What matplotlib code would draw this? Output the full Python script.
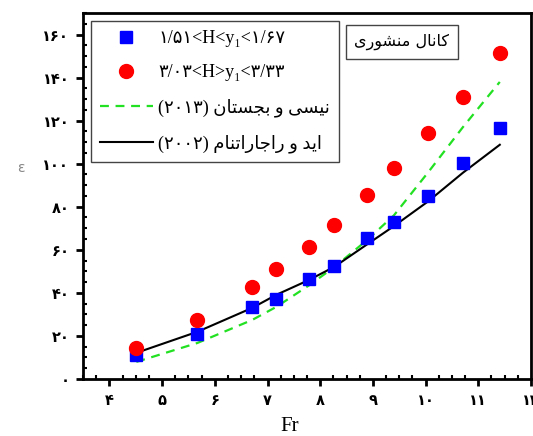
import matplotlib
matplotlib.use("Agg")
import matplotlib.pyplot as plt
from matplotlib.ticker import MultipleLocator, FuncFormatter
from matplotlib.font_manager import FontProperties

# Froude number of each test
fr = [4.51, 5.67, 6.71, 7.17, 7.79, 8.27, 8.89, 9.40, 10.05, 10.71, 11.41]
# measured relative energy loss, two ranges of H/y1
eps_low = [11.2, 20.9, 33.5, 37.2, 46.5, 52.6, 65.6, 73.0, 85.1, 100.5, 116.7]
eps_high = [14.4, 27.4, 42.8, 51.2, 61.4, 71.6, 85.6, 98.1, 114.4, 131.2, 151.6]
# empirical relations
eps_nisi = [7.9, 16.7, 27.4, 33.5, 43.5, 52.0, 64.5, 76.0, 96.0, 117.0, 138.0]
eps_eid = [12.1, 21.9, 33.0, 39.1, 46.0, 52.1, 62.5, 71.0, 82.5, 95.8, 108.8]

# persian strings, written as shaped glyphs in visual (left-to-right) order
lbl_low = "۱/۵۱<H<y\u2081<۱/۶۷"
lbl_high = "۳/۰۳<H>y\u2081<۳/۳۳"
lbl_nisi = ("(۲۰۱۳) " + "\uFEE5\uFE8E\uFE98\uFEB4\uFEA0\uFE91" + " \uFEED "
            + "\uFEF0\uFEB4\uFEF4\uFEE7")
lbl_eid = ("(۲۰۰۲) " + "\uFEE1\uFE8E\uFEE8\uFE97\uFE8D\uFEAD\uFE8E\uFE9F\uFE8D\uFEAD"
           + " \uFEED " + "\uFEAA\uFEF3\uFE8D")
title_txt = ("\uFEEF\uFEAD\uFEEE\uFEB8\uFEE8\uFEE3" + " "
             + "\uFEDD\uFE8E\uFEE7\uFE8E\uFB90")

fa_digits = str.maketrans("0123456789", "۰۱۲۳۴۵۶۷۸۹")

fig = plt.figure(figsize=(5.33, 4.36), dpi=100)
ax = fig.add_axes([0.156, 0.131, 0.840, 0.839])

ax.plot(fr, eps_low, "s", color="#0000ff", ms=8.5, label=lbl_low, zorder=4)
ax.plot(fr, eps_high, "o", color="#ff0000", ms=10, label=lbl_high, zorder=4)
ax.plot(fr, eps_nisi, "--", color="#22e022", lw=1.6, dashes=(4, 3), label=lbl_nisi)
ax.plot(fr, eps_eid, "-", color="black", lw=1.5, label=lbl_eid)

ax.set_xlim(3.5, 12)
ax.set_ylim(0, 170)
ax.xaxis.set_major_locator(MultipleLocator(1))
ax.xaxis.set_minor_locator(MultipleLocator(0.25))
ax.yaxis.set_major_locator(MultipleLocator(20))
ax.yaxis.set_minor_locator(MultipleLocator(5))
fmt = FuncFormatter(lambda v, p: str(int(round(v))).translate(fa_digits))
ax.xaxis.set_major_formatter(fmt)
ax.yaxis.set_major_formatter(fmt)

ax.tick_params(which="major", direction="out", length=5, width=2,
               labelsize=10.5, pad=5)
ax.tick_params(which="minor", direction="in", length=3, width=1.5)
for lab in ax.get_xticklabels() + ax.get_yticklabels():
    lab.set_fontweight("bold")
for s in ax.spines.values():
    s.set_linewidth(2)

ax.set_xlabel("Fr", fontsize=15, family="Liberation Serif")
ax.xaxis.set_label_coords(0.462, -0.105)
ax.set_ylabel("ε", fontsize=10, color="#888888", rotation=0)
ax.yaxis.set_label_coords(-0.14, 0.557)

leg = ax.legend(loc="upper left", bbox_to_anchor=(0.018, 0.978),
                prop=FontProperties(family=["Liberation Serif", "DejaVu Sans"], size=13),
                handlelength=2.9, handletextpad=0.3, labelspacing=0.95,
                borderpad=0.5, borderaxespad=0, fancybox=False, framealpha=1,
                edgecolor="#444444")
leg.get_frame().set_linewidth(1)

ax.text(0.712, 0.922, title_txt, transform=ax.transAxes, fontsize=11.5,
        ha="center", va="center", family=["DejaVu Sans"],
        bbox=dict(boxstyle="square,pad=0.55", fc="white", ec="#444444", lw=1))

fig.savefig("out.png", dpi=100)
